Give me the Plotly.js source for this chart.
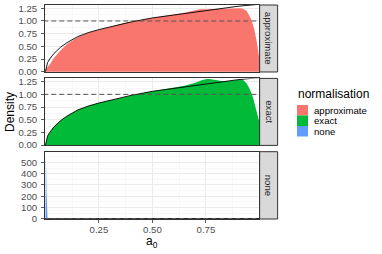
<!DOCTYPE html>
<html>
<head>
<meta charset="utf-8">
<script src="https://cdn.plot.ly/plotly-3.0.1.min.js"></script>
<style>html,body{margin:0;padding:0;background:#fff;}#chart{width:382px;height:254px;}</style>
</head>
<body>
<div id="chart"></div>
<script>
// ---- data ----
const facetNames = ["approximate", "exact", "none"];
const facetColors = ["#F8766D", "#00BA38", "#619CFF"];

const a0Theory = [0, 0.005, 0.01, 0.02, 0.04, 0.07, 0.1, 0.15, 0.2, 0.25, 0.3, 0.35, 0.4, 0.5, 0.6, 0.7, 0.8, 0.9, 1.0];
const densTheory = [0, 0.12, 0.18, 0.25, 0.36, 0.48, 0.57, 0.69, 0.77, 0.83, 0.88, 0.93, 0.98, 1.06, 1.12, 1.18, 1.24, 1.29, 1.33];

const a0Approx = [0, 0.01, 0.02, 0.04, 0.07, 0.1, 0.15, 0.2, 0.25, 0.3, 0.35, 0.4, 0.45, 0.5, 0.55, 0.6, 0.65, 0.7, 0.72, 0.75, 0.8, 0.85, 0.9, 0.92, 0.94, 0.96, 0.975, 0.985, 0.993, 0.998];
const densApprox = [0.04, 0.08, 0.14, 0.27, 0.42, 0.54, 0.68, 0.77, 0.83, 0.89, 0.94, 0.99, 1.03, 1.07, 1.10, 1.13, 1.16, 1.21, 1.23, 1.23, 1.24, 1.245, 1.25, 1.245, 1.20, 1.05, 0.85, 0.65, 0.45, 0.30];

const a0Exact = [0, 0.01, 0.02, 0.04, 0.07, 0.1, 0.15, 0.2, 0.25, 0.3, 0.35, 0.4, 0.45, 0.5, 0.55, 0.6, 0.65, 0.7, 0.73, 0.76, 0.8, 0.83, 0.87, 0.9, 0.92, 0.94, 0.955, 0.97, 0.985, 0.998];
const densExact = [0.0, 0.17, 0.25, 0.36, 0.48, 0.57, 0.69, 0.77, 0.83, 0.88, 0.93, 0.98, 1.02, 1.06, 1.10, 1.13, 1.17, 1.23, 1.28, 1.31, 1.29, 1.26, 1.27, 1.29, 1.30, 1.22, 1.10, 0.94, 0.70, 0.48];

const a0None = [0, 0.001, 0.002, 0.003, 0.004, 0.005, 0.006, 0.007, 0.008, 0.01];
const densNone = [0, 420, 567, 500, 380, 240, 130, 55, 18, 0];

const refX = [-0.01, 1.01];
const refY = [1, 1];

const densTicks = [0, 0.25, 0.5, 0.75, 1.0, 1.25];
const densTickText = ["0.00", "0.25", "0.50", "0.75", "1.00", "1.25"];
const noneTicks = [0, 100, 200, 300, 400, 500];
const noneTickText = ["0", "100", "200", "300", "400", "500"];
const xTicks = [0.25, 0.5, 0.75];
const xTickText = ["0.25", "0.50", "0.75"];

// ---- traces ----
const fills = [[a0Approx, densApprox], [a0Exact, densExact], [a0None, densNone]];
const traces = [];
fills.forEach((f, i) => {
  const xa = i === 0 ? "x" : "x" + (i + 1);
  const ya = i === 0 ? "y" : "y" + (i + 1);
  traces.push({type: "scatter", mode: "lines", x: f[0], y: f[1], fill: "tozeroy",
    fillcolor: facetColors[i], line: {width: 0, color: facetColors[i]},
    xaxis: xa, yaxis: ya, showlegend: false, hoverinfo: "skip"});
  traces.push({type: "scatter", mode: "lines", x: a0Theory, y: densTheory,
    line: {color: "#000000", width: 0.9}, xaxis: xa, yaxis: ya, showlegend: false, hoverinfo: "skip"});
  traces.push({type: "scatter", mode: "lines", x: refX, y: refY,
    line: {color: "#555555", width: 1, dash: "5px,3px"}, xaxis: xa, yaxis: ya, showlegend: false, hoverinfo: "skip"});
});

// ---- layout ----
const FONT = "Liberation Sans, Arial, sans-serif";
const tickFont = {family: FONT, size: 9.6, color: "#4D4D4D"};
function yAx(domain, range, tv, tt, minorDt) {
  return {domain: domain, range: range, tickmode: "array", tickvals: tv, ticktext: tt,
    ticks: "outside", ticklen: 3, tickwidth: 0.8, tickcolor: "#333333", tickfont: tickFont,
    showline: true, mirror: true, linecolor: "#333333", linewidth: 1,
    showgrid: true, gridcolor: "#EBEBEB", gridwidth: 1, zeroline: false, fixedrange: true,
    minor: {dtick: minorDt, tick0: 0, showgrid: true, gridcolor: "#F2F2F2", gridwidth: 0.6, ticks: ""},
    ticklabelstandoff: 2};
}
function xAx(anchor, showLabels) {
  const ax = {domain: [0, 1], range: [-0.002, 0.998], anchor: anchor, tickmode: "array",
    tickvals: xTicks, ticktext: xTickText, showticklabels: showLabels,
    ticks: showLabels ? "outside" : "", ticklen: 3, tickwidth: 0.8, tickcolor: "#333333", tickfont: tickFont,
    showline: true, mirror: true, linecolor: "#333333", linewidth: 1,
    showgrid: true, gridcolor: "#EBEBEB", gridwidth: 1, zeroline: false, fixedrange: true,
    minor: {dtick: 0.125, tick0: 0, showgrid: true, gridcolor: "#F2F2F2", gridwidth: 0.6, ticks: ""}};
  if (showLabels) ax.ticklabelstandoff = -2;
  return ax;
}

const domains = [[0.687, 1.0], [0.344, 0.657], [0.0, 0.3145]];
const shapes = [];
const annotations = [];
domains.forEach((d, i) => {
  shapes.push({type: "rect", xref: "paper", yref: "paper", x0: 1.003, x1: 1.087, y0: d[0], y1: d[1],
    fillcolor: "#D9D9D9", line: {color: "#333333", width: 1}, layer: "above"});
  annotations.push({xref: "paper", yref: "paper", x: 1.045, y: (d[0] + d[1]) / 2, text: facetNames[i],
    textangle: 90, showarrow: false, font: {family: FONT, size: 9.6, color: "#1A1A1A"},
    xanchor: "center", yanchor: "middle"});
});

// legend (drawn manually to match ggplot's compact keys)
function px2x(px) { return (px - 45) / 214; }
function px2y(py) { return (219 - py) / 214; }
annotations.push({xref: "paper", yref: "paper", x: px2x(296), y: px2y(94), text: "normalisation",
  showarrow: false, xanchor: "left", yanchor: "middle", font: {family: FONT, size: 12, color: "#000000"}});
const keyTop = 105, keyH = 10.5;
facetNames.forEach((n, i) => {
  shapes.push({type: "rect", xref: "paper", yref: "paper", x0: px2x(297), x1: px2x(308),
    y0: px2y(keyTop + keyH * (i + 1)), y1: px2y(keyTop + keyH * i),
    fillcolor: facetColors[i], line: {width: 0}});
  annotations.push({xref: "paper", yref: "paper", x: px2x(312), y: px2y(keyTop + keyH * i + keyH / 2),
    text: n, showarrow: false, xanchor: "left", yanchor: "middle",
    font: {family: FONT, size: 9.6, color: "#000000"}});
});

// axis titles
annotations.push({xref: "paper", yref: "paper", x: px2x(10), y: px2y(112), text: "Density",
  textangle: -90, showarrow: false, xanchor: "center", yanchor: "middle",
  font: {family: FONT, size: 12, color: "#000000"}});
annotations.push({xref: "paper", yref: "paper", x: px2x(152), y: px2y(241.5), text: "a<sub>0</sub>",
  showarrow: false, xanchor: "center", yanchor: "middle",
  font: {family: FONT, size: 12, color: "#000000"}});

const layout = {
  width: 382, height: 254,
  margin: {l: 45, r: 123, t: 5, b: 35, pad: 0},
  paper_bgcolor: "#FFFFFF", plot_bgcolor: "#FFFFFF",
  showlegend: false,
  xaxis: xAx("y", false),
  xaxis2: xAx("y2", false),
  xaxis3: xAx("y3", true),
  yaxis: yAx(domains[0], [-0.006, 1.315], densTicks, densTickText, 0.125),
  yaxis2: Object.assign(yAx(domains[1], [-0.006, 1.315], densTicks, densTickText, 0.125), {anchor: "x2"}),
  yaxis3: Object.assign(yAx(domains[2], [-2.8, 595], noneTicks, noneTickText, 50), {anchor: "x3"}),
  shapes: shapes,
  annotations: annotations,
  font: {family: FONT}
};
layout.yaxis.anchor = "x";

Plotly.newPlot("chart", traces, layout, {staticPlot: true, displayModeBar: false});
</script>
</body>
</html>
